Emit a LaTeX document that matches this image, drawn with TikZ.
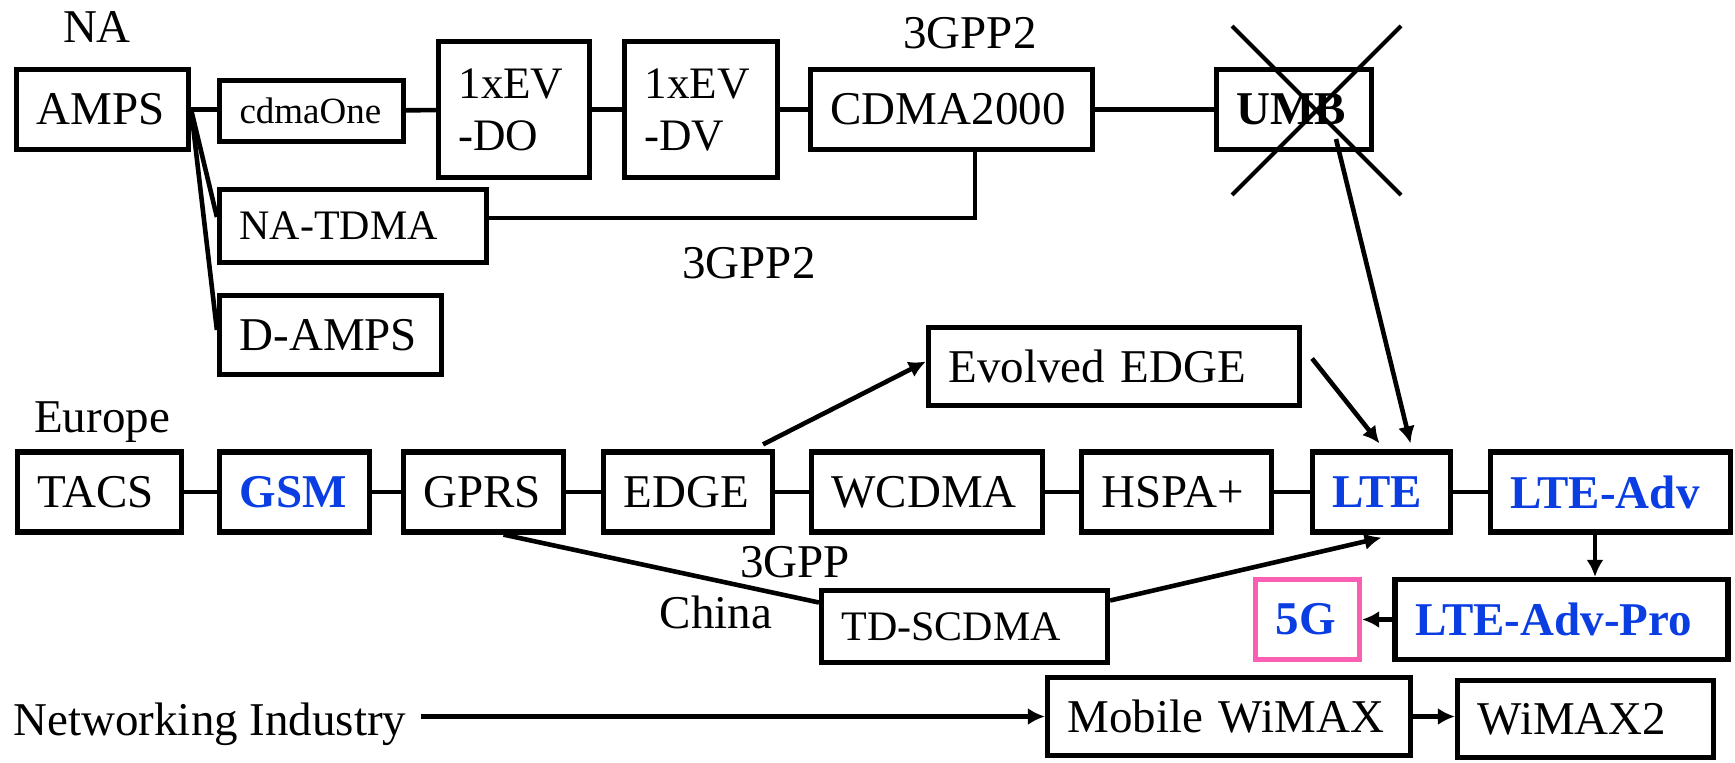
\documentclass[tikz,border=0pt]{standalone}
\usepackage{fontspec}
\setmainfont{Liberation Serif}
\usepackage{tikz}
\usetikzlibrary{arrows.meta}

\definecolor{lteblue}{RGB}{10,62,226}
\definecolor{fivegpink}{RGB}{250,95,180}

\tikzset{
  gen/.style={draw, line width=2.6pt, inner xsep=10pt, inner ysep=2pt, text width=#1, align=left, minimum height=40pt},
  newgen/.style={gen=#1, text=lteblue, font=\fontsize{23.5}{27}\selectfont\bfseries},
  lbl/.style={anchor=base},
  link/.style={line width=2.3pt},
  flow/.style={line width=2.3pt, -{Latex[length=8.5pt,width=8.5pt]}},
  cross/.style={line width=2pt},
}

\begin{document}
\begin{tikzpicture}[x=0.5pt, y=-0.5pt, font=\fontsize{23.5}{27}\selectfont]
\useasboundingbox (0,0) rectangle (1735,762);

% Labels
\node[lbl] (na) at (97,42) {NA};
\node[lbl] (gpptwotop) at (970,48) {3GPP2};
\node[lbl] (gpptwolow) at (749,278) {3GPP2};
\node[lbl] (europe) at (102,432) {Europe};
\node[lbl] (gpp) at (795,577) {3GPP};
\node[lbl] (china) at (716,628) {China};
\node[lbl] (netind) at (210,735) {Networking Industry};

% North America
\node[gen=66pt] (amps) at (102.5,109.5) {AMPS};
\node[gen=72pt, minimum height=30.5pt, font=\fontsize{18.5}{22}\selectfont] (cdmaone) at (311.5,111) {cdmaOne};
\node[gen=55.5pt, minimum height=68pt, font=\fontsize{22.5}{26}\selectfont] (evdo) at (514,109.5) {1xEV\\-DO};
\node[gen=56.5pt, minimum height=68pt, font=\fontsize{22.5}{26}\selectfont] (evdv) at (701,109.5) {1xEV\\-DV};
\node[gen=121pt] (cdmatwok) at (951.5,109.5) {CDMA2000};
\node[gen=57.5pt, font=\fontsize{23.5}{27}\selectfont\bfseries] (umb) at (1294,109.5) {UMB};
\node[gen=113.5pt, minimum height=36.5pt, font=\fontsize{21}{25}\selectfont] (natdma) at (353,226) {NA-TDMA};
\node[gen=91pt, minimum height=39.5pt] (damps) at (330.5,335) {D-AMPS};

% Europe
\node[gen=165.5pt, minimum height=39pt] (evedge) at (1114,366.5) {Evolved EDGE};
\node[gen=62pt] (tacs) at (99.5,492) {TACS};
\node[newgen=55pt] (gsm) at (294.5,492) {GSM};
\node[gen=60pt] (gprs) at (483.5,492) {GPRS};
\node[gen=64.5pt] (edge) at (688,492) {EDGE};
\node[gen=95.5pt] (wcdma) at (927,492) {WCDMA};
\node[gen=75pt] (hspa) at (1176.5,492) {HSPA+};
\node[newgen=49pt] (lte) at (1381.5,492) {LTE};
\node[newgen=100pt] (lteadv) at (1610.5,492) {LTE-Adv};
\node[newgen=146.5pt] (ltepro) at (1561.5,619.5) {LTE-Adv-Pro};
\node[newgen=32pt, draw=fivegpink] (fiveg) at (1307.5,619.5) {5G};
\node[gen=123pt, minimum height=36pt, font=\fontsize{21}{25}\selectfont] (tdscdma) at (964.5,626.5) {TD-SCDMA};

% WiMAX
\node[gen=161.5pt, minimum height=39pt] (mwimax) at (1229,716.5) {Mobile WiMAX};
\node[gen=108pt, minimum height=38.5pt] (wimaxtwo) at (1585.5,719) {WiMAX2};

% Lines
\draw[link] (amps.east) -- (amps.east -| cdmaone.west);
\draw[link] (cdmaone) -- (evdo);
\draw[link] (evdo) -- (evdv);
\draw[link] (evdv) -- (cdmatwok);
\draw[link] (cdmatwok) -- (umb);
\draw[link] (amps.east) -- ([yshift=4.5pt]natdma.west);
\draw[link] (amps.east) -- ([yshift=2.5pt]damps.west);
\draw[link] ([xshift=11.75pt]cdmatwok.south) |- ([yshift=4pt]natdma.east);

\draw[link] (tacs) -- (gsm);
\draw[link] (gsm) -- (gprs);
\draw[link] (gprs) -- (edge);
\draw[link] (edge) -- (wcdma);
\draw[link] (wcdma) -- (hspa);
\draw[link] (hspa) -- (lte);
\draw[link] (lte) -- (lteadv);
\draw[link] ([xshift=10pt]gprs.south) -- ([yshift=12pt]tdscdma.west);

% Arrows
\draw[flow] ([xshift=37.5pt,yshift=2.5pt]edge.north) -- ([yshift=2.5pt]evedge.west);
\draw[flow] ([xshift=5pt,yshift=4pt]evedge.east) -- ([xshift=-1pt,yshift=3pt]lte.north);
\draw[flow] ([xshift=21pt,yshift=-14.75pt]umb.center) -- ([xshift=14.5pt,yshift=3pt]lte.north);
\draw[flow] ([yshift=13pt]tdscdma.east) -- ([yshift=-1.5pt]lte.south);
\draw[flow] ([xshift=-7.75pt]lteadv.south) -- ([xshift=-7.75pt]lteadv.south |- ltepro.north);
\draw[flow] (ltepro.west) -- (fiveg.east);
\draw[flow] ([xshift=3.5pt]netind.east |- mwimax.west) -- (mwimax.west);
\draw[flow] (mwimax.east) -- (mwimax.east -| wimaxtwo.west);

% UMB crossed out
\draw[cross] (1232,26) -- (1401,195);
\draw[cross] (1401,26) -- (1232,195);

\end{tikzpicture}
\end{document}
